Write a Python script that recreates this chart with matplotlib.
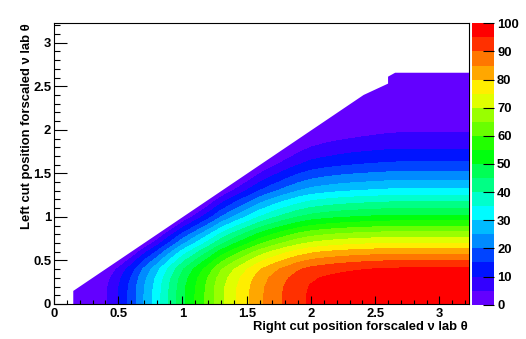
import numpy as np
import matplotlib
matplotlib.use("Agg")
import matplotlib.pyplot as plt
from matplotlib.patches import Polygon
from matplotlib.ticker import MultipleLocator, FuncFormatter

# ---- data -------------------------------------------------------------
# grid positions (right cut = x, left cut = y)
x_pos = [0.1, 0.2, 0.3, 0.4, 0.5, 0.6, 0.7, 0.8, 0.9, 1.0, 1.1, 1.2, 1.3,
         1.4, 1.5, 1.6, 1.7, 1.8, 1.9, 2.0, 2.1, 2.2, 2.3, 2.4, 2.5, 2.6,
         2.7, 2.8, 2.9, 3.0, 3.1, 3.2, 3.3]
y_pos = [0.0, 0.1, 0.2, 0.3, 0.4, 0.5, 0.6, 0.7, 0.8, 0.9, 1.0, 1.1, 1.2,
         1.3, 1.4, 1.5, 1.6, 1.7, 1.8, 1.9, 2.0, 2.1, 2.2, 2.3, 2.4, 2.5,
         2.6, 2.7]

# percentage in each cell, one row per left-cut value
values = [
    [0, 0.3, 1.5, 4.2, 10.0, 16.8, 25.0, 32.4, 40.6, 48.6, 55.2, 61.7, 68.7, 74.1, 79.0, 83.8, 87.5, 90.7, 93.6, 95.7, 96.9, 97.8, 98.5, 99.0, 99.4, 99.8, 100, 100, 100, 100, 100, 100, 100],
    [0, 0.3, 1.5, 4.2, 10.0, 16.8, 25.0, 32.4, 40.6, 48.6, 55.2, 61.7, 68.7, 74.1, 79.0, 83.8, 87.5, 90.7, 93.6, 95.7, 96.9, 97.8, 98.5, 99.0, 99.4, 99.8, 100, 100, 100, 100, 100, 100, 100],
    [0, 0, 1.2, 3.9, 9.7, 16.5, 24.7, 32.1, 40.3, 48.3, 54.9, 61.4, 68.4, 73.8, 78.7, 83.5, 87.2, 90.4, 93.3, 95.4, 96.6, 97.5, 98.2, 98.7, 99.1, 99.5, 99.7, 99.7, 99.7, 99.7, 99.7, 99.7, 99.7],
    [0, 0, 0, 2.7, 8.5, 15.3, 23.5, 30.9, 39.1, 47.1, 53.7, 60.2, 67.2, 72.6, 77.5, 82.3, 86.0, 89.2, 92.1, 94.2, 95.4, 96.3, 97.0, 97.5, 97.9, 98.3, 98.5, 98.5, 98.5, 98.5, 98.5, 98.5, 98.5],
    [0, 0, 0, 0, 5.8, 12.6, 20.8, 28.2, 36.4, 44.4, 51.0, 57.5, 64.5, 69.9, 74.8, 79.6, 83.3, 86.5, 89.4, 91.5, 92.7, 93.6, 94.3, 94.8, 95.2, 95.6, 95.8, 95.8, 95.8, 95.8, 95.8, 95.8, 95.8],
    [0, 0, 0, 0, 0, 6.8, 15.0, 22.4, 30.6, 38.6, 45.2, 51.7, 58.7, 64.1, 69.0, 73.8, 77.5, 80.7, 83.6, 85.7, 86.9, 87.8, 88.5, 89.0, 89.4, 89.8, 90.0, 90.0, 90.0, 90.0, 90.0, 90.0, 90.0],
    [0, 0, 0, 0, 0, 0, 8.2, 15.6, 23.8, 31.8, 38.4, 44.9, 51.9, 57.3, 62.2, 67.0, 70.7, 73.9, 76.8, 78.9, 80.1, 81.0, 81.7, 82.2, 82.6, 83.0, 83.2, 83.2, 83.2, 83.2, 83.2, 83.2, 83.2],
    [0, 0, 0, 0, 0, 0, 0, 7.4, 15.6, 23.6, 30.2, 36.7, 43.7, 49.1, 54.0, 58.8, 62.5, 65.7, 68.6, 70.7, 71.9, 72.8, 73.5, 74.0, 74.4, 74.8, 75.0, 75.0, 75.0, 75.0, 75.0, 75.0, 75.0],
    [0, 0, 0, 0, 0, 0, 0, 0, 8.2, 16.2, 22.8, 29.3, 36.3, 41.7, 46.6, 51.4, 55.1, 58.3, 61.2, 63.3, 64.5, 65.4, 66.1, 66.6, 67.0, 67.4, 67.6, 67.6, 67.6, 67.6, 67.6, 67.6, 67.6],
    [0, 0, 0, 0, 0, 0, 0, 0, 0, 8.0, 14.6, 21.1, 28.1, 33.5, 38.4, 43.2, 46.9, 50.1, 53.0, 55.1, 56.3, 57.2, 57.9, 58.4, 58.8, 59.2, 59.4, 59.4, 59.4, 59.4, 59.4, 59.4, 59.4],
    [0, 0, 0, 0, 0, 0, 0, 0, 0, 0, 6.6, 13.1, 20.1, 25.5, 30.4, 35.2, 38.9, 42.1, 45.0, 47.1, 48.3, 49.2, 49.9, 50.4, 50.8, 51.2, 51.4, 51.4, 51.4, 51.4, 51.4, 51.4, 51.4],
    [0, 0, 0, 0, 0, 0, 0, 0, 0, 0, 0, 6.5, 13.5, 18.9, 23.8, 28.6, 32.3, 35.5, 38.4, 40.5, 41.7, 42.6, 43.3, 43.8, 44.2, 44.6, 44.8, 44.8, 44.8, 44.8, 44.8, 44.8, 44.8],
    [0, 0, 0, 0, 0, 0, 0, 0, 0, 0, 0, 0, 7.0, 12.4, 17.3, 22.1, 25.8, 29.0, 31.9, 34.0, 35.2, 36.1, 36.8, 37.3, 37.7, 38.1, 38.3, 38.3, 38.3, 38.3, 38.3, 38.3, 38.3],
    [0, 0, 0, 0, 0, 0, 0, 0, 0, 0, 0, 0, 0, 5.4, 10.3, 15.1, 18.8, 22.0, 24.9, 27.0, 28.2, 29.1, 29.8, 30.3, 30.7, 31.1, 31.3, 31.3, 31.3, 31.3, 31.3, 31.3, 31.3],
    [0, 0, 0, 0, 0, 0, 0, 0, 0, 0, 0, 0, 0, 0, 4.9, 9.7, 13.4, 16.6, 19.5, 21.6, 22.8, 23.7, 24.4, 24.9, 25.3, 25.7, 25.9, 25.9, 25.9, 25.9, 25.9, 25.9, 25.9],
    [0, 0, 0, 0, 0, 0, 0, 0, 0, 0, 0, 0, 0, 0, 0, 4.8, 8.5, 11.7, 14.6, 16.7, 17.9, 18.8, 19.5, 20.0, 20.4, 20.8, 21.0, 21.0, 21.0, 21.0, 21.0, 21.0, 21.0],
    [0, 0, 0, 0, 0, 0, 0, 0, 0, 0, 0, 0, 0, 0, 0, 0, 3.7, 6.9, 9.8, 11.9, 13.1, 14.0, 14.7, 15.2, 15.6, 16.0, 16.2, 16.2, 16.2, 16.2, 16.2, 16.2, 16.2],
    [0, 0, 0, 0, 0, 0, 0, 0, 0, 0, 0, 0, 0, 0, 0, 0, 0, 3.2, 6.1, 8.2, 9.4, 10.3, 11.0, 11.5, 11.9, 12.3, 12.5, 12.5, 12.5, 12.5, 12.5, 12.5, 12.5],
    [0, 0, 0, 0, 0, 0, 0, 0, 0, 0, 0, 0, 0, 0, 0, 0, 0, 0, 2.9, 5.0, 6.2, 7.1, 7.8, 8.3, 8.7, 9.1, 9.3, 9.3, 9.3, 9.3, 9.3, 9.3, 9.3],
    [0, 0, 0, 0, 0, 0, 0, 0, 0, 0, 0, 0, 0, 0, 0, 0, 0, 0, 0, 2.1, 3.3, 4.2, 4.9, 5.4, 5.8, 6.2, 6.4, 6.4, 6.4, 6.4, 6.4, 6.4, 6.4],
    [0, 0, 0, 0, 0, 0, 0, 0, 0, 0, 0, 0, 0, 0, 0, 0, 0, 0, 0, 0, 1.2, 2.1, 2.8, 3.3, 3.7, 4.1, 4.3, 4.3, 4.3, 4.3, 4.3, 4.3, 4.3],
    [0, 0, 0, 0, 0, 0, 0, 0, 0, 0, 0, 0, 0, 0, 0, 0, 0, 0, 0, 0, 0, 0.9, 1.6, 2.1, 2.5, 2.9, 3.1, 3.1, 3.1, 3.1, 3.1, 3.1, 3.1],
    [0, 0, 0, 0, 0, 0, 0, 0, 0, 0, 0, 0, 0, 0, 0, 0, 0, 0, 0, 0, 0, 0, 0.7, 1.2, 1.6, 2.0, 2.2, 2.2, 2.2, 2.2, 2.2, 2.2, 2.2],
    [0, 0, 0, 0, 0, 0, 0, 0, 0, 0, 0, 0, 0, 0, 0, 0, 0, 0, 0, 0, 0, 0, 0, 0.5, 0.9, 1.3, 1.5, 1.5, 1.5, 1.5, 1.5, 1.5, 1.5],
    [0, 0, 0, 0, 0, 0, 0, 0, 0, 0, 0, 0, 0, 0, 0, 0, 0, 0, 0, 0, 0, 0, 0, 0, 0.4, 0.8, 1.0, 1.0, 1.0, 1.0, 1.0, 1.0, 1.0],
    [0, 0, 0, 0, 0, 0, 0, 0, 0, 0, 0, 0, 0, 0, 0, 0, 0, 0, 0, 0, 0, 0, 0, 0, 0, 0.4, 0.6, 0.6, 0.6, 0.6, 0.6, 0.6, 0.6],
    [0, 0, 0, 0, 0, 0, 0, 0, 0, 0, 0, 0, 0, 0, 0, 0, 0, 0, 0, 0, 0, 0, 0, 0, 0, 0, 0.2, 0.2, 0.2, 0.2, 0.2, 0.2, 0.2],
    [0, 0, 0, 0, 0, 0, 0, 0, 0, 0, 0, 0, 0, 0, 0, 0, 0, 0, 0, 0, 0, 0, 0, 0, 0, 0, 0, 0, 0, 0, 0, 0, 0],
]

# outline of the populated (non-empty) region
region_x = [0.15, 3.235, 3.235, 2.655, 2.60, 2.60, 2.41, 0.15]
region_y = [0.0, 0.0, 2.655, 2.655, 2.61, 2.53, 2.40, 0.15]

levels = list(range(0, 105, 5))
colorbar_ticks = list(range(0, 110, 10))

# violet -> red spectrum, one colour per 5 % step
palette = ["#6300ff", "#3300ff", "#0014ff", "#0044ff", "#008bff",
           "#00bbff", "#00fcff", "#00ffcc", "#00ff85", "#00ff55",
           "#00ff0e", "#22ff00", "#69ff00", "#99ff00", "#e0ff00",
           "#ffee00", "#ffa700", "#ff7700", "#ff3000", "#ff0000"]

x_title = "Right cut position forscaled \u03bd lab \u03b8"
y_title = "Left cut position forscaled \u03bd lab \u03b8"

# ---- figure -----------------------------------------------------------
W, H = 526, 339
FS = 9.4
font = ["Liberation Sans", "DejaVu Sans"]
plt.rcParams["font.family"] = font
plt.rcParams["font.weight"] = "bold"

fig = plt.figure(figsize=(W / 100, H / 100), dpi=100)
ax = fig.add_axes([54 / W, 1 - 304 / H, (469 - 54) / W, (304 - 23) / H])
cax = fig.add_axes([471.7 / W, 1 - 304.7 / H, 22.6 / W, (304.7 - 23.3) / H])

cs = ax.contourf(x_pos, y_pos, values, levels=levels, colors=palette,
                 antialiased=False, zorder=1)
region = Polygon(list(zip(region_x, region_y)), closed=True,
                 transform=ax.transData)
cs.set_clip_path(region)

ax.set_xlim(0, 3.23)
ax.set_ylim(0, 3.226)

fmt = FuncFormatter(lambda v, p: "%g" % v)
ax.xaxis.set_major_locator(MultipleLocator(0.5))
ax.xaxis.set_minor_locator(MultipleLocator(0.1))
ax.yaxis.set_major_locator(MultipleLocator(0.5))
ax.yaxis.set_minor_locator(MultipleLocator(0.1))
ax.xaxis.set_major_formatter(fmt)
ax.yaxis.set_major_formatter(fmt)

ax.tick_params(axis="x", which="major", direction="in", length=6.0,
               width=0.8, pad=3.0, labelsize=FS, top=False)
ax.tick_params(axis="x", which="minor", direction="in", length=3.0,
               width=0.8, top=False)
ax.tick_params(axis="y", which="major", direction="in", length=9.0,
               width=0.8, pad=2.0, labelsize=FS, right=False)
ax.tick_params(axis="y", which="minor", direction="in", length=4.5,
               width=0.8, right=False)
for lab in ax.get_xticklabels() + ax.get_yticklabels():
    lab.set_fontweight("bold")

for s in ax.spines.values():
    s.set_linewidth(0.8)
ax.spines["right"].set_zorder(0.5)

# colour scale
cb = fig.colorbar(cs, cax=cax, ticks=colorbar_ticks)
cb.outline.set_visible(False)
cb.minorticks_off()
cax.yaxis.set_ticks_position("right")
cax.tick_params(direction="in", length=8, width=0.8, color="black",
                pad=2, labelsize=FS)
cax.set_yticklabels([str(t) for t in colorbar_ticks], fontweight="bold")

# axis titles
fig.text(468 / W, 1 - 327 / H, x_title, ha="right", va="center",
         fontsize=FS, fontweight="bold", family=font)
fig.text(27 / W, 1 - 23 / H, y_title, ha="center", va="top", rotation=90,
         fontsize=FS, fontweight="bold", family=font)

fig.savefig("out.png", dpi=100)
